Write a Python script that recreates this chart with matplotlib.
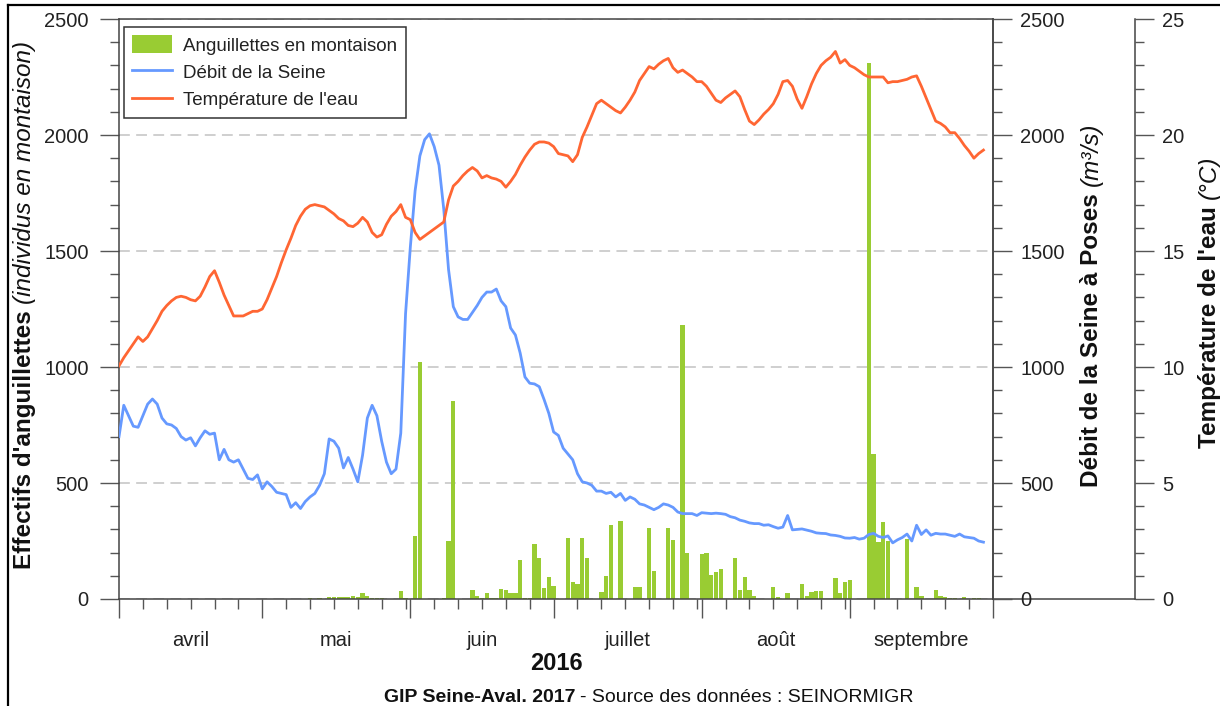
import numpy as np
import matplotlib
matplotlib.use("Agg")
import matplotlib.pyplot as plt
import matplotlib.dates as mdates
from matplotlib.ticker import MultipleLocator, NullFormatter
from matplotlib.patches import Patch
from matplotlib.lines import Line2D

plt.rcParams['font.family'] = ['Liberation Sans', 'DejaVu Sans']

# Données journalières du 1er avril au 29 septembre 2016
start = np.datetime64('2016-04-01')

# Anguillettes en montaison (individus / jour)
eels = [0, 0, 0, 0, 0, 0, 0, 0, 0, 0,
        0, 0, 0, 0, 0, 0, 0, 0, 0, 0,
        0, 0, 0, 0, 0, 0, 0, 0, 0, 1,
        1, 0, 0, 1, 0, 0, 2, 0, 2, 0,
        3, 0, 3, 0, 8, 8, 10, 8, 10, 12,
        10, 25, 12, 5, 5, 3, 0, 0, 2, 35,
        5, 0, 270, 1020, 0, 0, 0, 0, 5, 250,
        855, 0, 0, 0, 40, 15, 3, 25, 3, 3,
        43, 40, 25, 25, 168, 3, 3, 237, 177, 47,
        95, 56, 0, 0, 265, 75, 65, 265, 175, 0,
        0, 30, 100, 320, 0, 335, 0, 0, 50, 50,
        0, 305, 120, 0, 0, 305, 255, 0, 1180, 200,
        0, 0, 195, 200, 105, 115, 130, 0, 0, 175,
        40, 95, 40, 15, 0, 0, 0, 50, 10, 0,
        25, 0, 0, 65, 15, 30, 35, 35, 0, 0,
        90, 27, 75, 80, 0, 0, 0, 2310, 625, 247,
        330, 250, 0, 0, 0, 259, 0, 51, 13, 0,
        0, 40, 12, 10, 3, 3, 0, 8, 0, 3,
        3, 0]

# Débit de la Seine à Poses (m3/s)
debit = [700, 835, 790, 745, 740, 790, 840, 862, 840, 780,
         755, 750, 735, 700, 685, 695, 660, 695, 725, 710,
         715, 600, 645, 600, 590, 600, 560, 520, 515, 535,
         475, 505, 485, 460, 455, 450, 395, 415, 390, 420,
         440, 455, 490, 540, 690, 680, 650, 565, 610, 560,
         505, 620, 780, 835, 790, 680, 590, 540, 560, 715,
         1230, 1517, 1760, 1910, 1980, 2005, 1950, 1870, 1680, 1420,
         1260, 1216, 1205, 1205, 1235, 1265, 1300, 1323, 1323, 1336,
         1285, 1260, 1168, 1138, 1060, 957, 930, 927, 915, 860,
         800, 720, 705, 650, 625, 600, 540, 505, 500, 490,
         465, 465, 455, 460, 440, 455, 425, 440, 430, 410,
         405, 395, 385, 395, 410, 405, 395, 375, 368, 368,
         368, 360, 372, 370, 368, 370, 368, 365, 355, 350,
         340, 335, 328, 325, 325, 318, 320, 312, 305, 310,
         360, 298, 300, 302, 297, 292, 285, 283, 282, 276,
         274, 270, 263, 262, 265, 258, 262, 278, 283, 270,
         265, 272, 242, 255, 265, 280, 250, 318, 278, 298,
         275, 283, 280, 280, 275, 270, 280, 268, 265, 262,
         250, 245]

# Température de l'eau (°C)
temp = [10.05, 10.4, 10.7, 11.0, 11.3, 11.1, 11.3, 11.65, 12.0, 12.4,
        12.65, 12.85, 13.0, 13.05, 13.0, 12.9, 12.85, 13.05, 13.45, 13.9,
        14.15, 13.65, 13.1, 12.65, 12.2, 12.2, 12.2, 12.3, 12.4, 12.4,
        12.5, 12.9, 13.4, 13.9, 14.5, 15.05, 15.55, 16.1, 16.5, 16.8,
        16.95, 17.0, 16.95, 16.9, 16.75, 16.6, 16.4, 16.3, 16.1, 16.05,
        16.2, 16.45, 16.25, 15.8, 15.6, 15.7, 16.15, 16.5, 16.7, 17.0,
        16.45, 16.35, 15.8, 15.5, 15.65, 15.8, 15.95, 16.1, 16.25, 17.2,
        17.8, 18.0, 18.25, 18.45, 18.6, 18.45, 18.15, 18.25, 18.15, 18.1,
        18.0, 17.75, 18.0, 18.3, 18.7, 19.05, 19.35, 19.6, 19.7, 19.7,
        19.65, 19.5, 19.2, 19.15, 19.1, 18.85, 19.15, 19.9, 20.35, 20.85,
        21.35, 21.5, 21.35, 21.2, 21.05, 20.95, 21.2, 21.5, 21.85, 22.35,
        22.65, 22.95, 22.85, 23.05, 23.2, 23.3, 22.9, 22.7, 22.8, 22.65,
        22.5, 22.3, 22.3, 22.1, 21.8, 21.5, 21.4, 21.6, 21.75, 21.9,
        21.65, 21.1, 20.6, 20.45, 20.65, 20.9, 21.1, 21.35, 21.75, 22.3,
        22.35, 22.1, 21.55, 21.15, 21.65, 22.2, 22.65, 23.0, 23.2, 23.35,
        23.6, 23.1, 23.25, 23.0, 22.9, 22.75, 22.6, 22.5, 22.5, 22.5,
        22.5, 22.25, 22.3, 22.3, 22.35, 22.4, 22.5, 22.55, 22.1, 21.6,
        21.1, 20.6, 20.5, 20.35, 20.1, 20.1, 19.85, 19.55, 19.3, 19.0,
        19.2, 19.35]

months = ['avril', 'mai', 'juin', 'juillet', 'août', 'septembre']

dates = start + np.arange(len(debit))
bar_dates = start + np.arange(len(eels))

W, H, DPI = 1220, 706, 100
GREEN = '#99CC33'
BLUE = '#6699FF'
ORANGE = '#FF6633'
AXC = '#555555'
TXT = '#222222'

fig = plt.figure(figsize=(W / DPI, H / DPI), dpi=DPI)
ax = fig.add_axes([119 / W, 1 - 599 / H, 874 / W, 580 / H])

# barres des effectifs
ax.bar(bar_dates, eels, width=0.9, color=GREEN, zorder=2)
ax.set_ylim(0, 2500)
ax.set_xlim(np.datetime64('2016-04-01'), np.datetime64('2016-10-01'))
ax.yaxis.set_major_locator(MultipleLocator(500))
ax.yaxis.set_minor_locator(MultipleLocator(100))
ax.set_axisbelow(True)
ax.grid(axis='y', which='major', color='#cccccc', lw=1.3, linestyle=(0, (6, 3.5)))

ax.xaxis.set_major_locator(mdates.MonthLocator())
ax.xaxis.set_minor_locator(mdates.DayLocator(bymonthday=[6, 11, 16, 21, 26, 31]))
ax.xaxis.set_major_formatter(NullFormatter())
ax.tick_params(axis='x', which='major', direction='out', length=13.7, width=1, color=AXC)
ax.tick_params(axis='x', which='minor', direction='out', length=7.2, width=1, color=AXC)
ax.tick_params(axis='y', which='major', direction='out', length=13.7, width=1, color=AXC,
               labelsize=14.5, labelcolor=TXT, pad=8)
ax.tick_params(axis='y', which='minor', direction='out', length=6.5, width=1, color=AXC)
for s in ax.spines.values():
    s.set_color('#444444')
    s.set_linewidth(1.1)

# débit
ax2 = ax.twinx()
ax2.plot(dates, debit, color=BLUE, lw=2)
ax2.set_ylim(0, 2500)

# température
ax3 = ax.twinx()
ax3.spines['right'].set_position(('axes', (1135 - 119) / 874))
ax3.plot(dates, temp, color=ORANGE, lw=2)
ax3.set_ylim(0, 25)

for a, step in ((ax2, 500), (ax3, 5)):
    a.yaxis.set_major_locator(MultipleLocator(step))
    a.yaxis.set_minor_locator(MultipleLocator(step / 5))
    a.tick_params(axis='y', which='major', direction='out', length=13.7, width=1, color=AXC,
                  labelsize=14.5, labelcolor=TXT, pad=6)
    a.tick_params(axis='y', which='minor', direction='out', length=6.5, width=1, color=AXC)
    for name in ('left', 'top', 'bottom'):
        a.spines[name].set_visible(False)
    a.spines['right'].set_color('#444444')
    a.spines['right'].set_linewidth(1.1)

# prolongement de l'axe horizontal jusqu'à l'axe des températures
ax.add_line(Line2D([1, (1135 - 119) / 874], [0, 0], transform=ax.transAxes,
                   color='#444444', lw=1.1, clip_on=False))

# noms des mois au milieu de chaque mois
month_starts = np.arange(np.datetime64('2016-04'), np.datetime64('2016-11'), dtype='datetime64[M]')
for i, name in enumerate(months):
    a0 = month_starts[i].astype('datetime64[D]')
    a1 = month_starts[i + 1].astype('datetime64[D]')
    mid = mdates.date2num(a0) + (a1 - a0).astype(int) / 2
    ax.text(mid, -0.0707, name, transform=ax.get_xaxis_transform(),
            ha='center', va='center', fontsize=14.5, color=TXT)

fig.text(556 / W, 1 - 664 / H, '2016', fontsize=17, fontweight='bold',
         ha='center', va='center', color='#111111')

# légende
handles = [Patch(facecolor=GREEN, edgecolor='none'),
           Line2D([], [], color=BLUE, lw=2),
           Line2D([], [], color=ORANGE, lw=2)]
labels = ['Anguillettes en montaison', 'Débit de la Seine', "Température de l'eau"]
leg = ax3.legend(handles, labels, loc='upper left', bbox_to_anchor=(5 / 874, 1 - 8 / 580),
                 borderaxespad=0, fontsize=13.5, frameon=True, fancybox=False,
                 framealpha=1, edgecolor='#333333', handlelength=2.1, handleheight=1.1,
                 labelspacing=0.42, borderpad=0.45, handletextpad=0.6)
leg.get_frame().set_linewidth(1.1)
for t in leg.get_texts():
    t.set_color(TXT)

fig.canvas.draw()
renderer = fig.canvas.get_renderer()


def vertical_label(xc, yc, bold, italic, size):
    """Titre d'axe vertical : partie en gras suivie d'une partie en italique."""
    em = size * DPI / 72
    xb = (xc + 0.35 * em) / W
    t1 = fig.text(xb, 0, bold, rotation=90, rotation_mode='anchor', ha='left',
                  va='baseline', fontsize=size, fontweight='bold', color='#111111')
    t2 = fig.text(xb, 0, italic, rotation=90, rotation_mode='anchor', ha='left',
                  va='baseline', fontsize=size, fontstyle='italic', color='#111111')
    h1 = t1.get_window_extent(renderer).height
    h2 = t2.get_window_extent(renderer).height
    gap = 0.28 * em
    y0 = (H - yc) - (h1 + gap + h2) / 2
    t1.set_y(y0 / H)
    t2.set_y((y0 + h1 + gap) / H)


vertical_label(22, 305, "Effectifs d'anguillettes", '(individus en montaison)', 17.5)
vertical_label(1089, 305, 'Débit de la Seine à Poses', '(m³/s)', 17.5)
vertical_label(1207, 302, "Température de l'eau", '(°C)', 17.5)

# source
s1 = fig.text(384 / W, 1 - 702 / H, 'GIP Seine-Aval. 2017', fontsize=14, fontweight='bold',
              ha='left', va='baseline', color='#111111')
w1 = s1.get_window_extent(renderer).width
fig.text((384 + w1 + 4) / W, 1 - 702 / H, '- Source des données : SEINORMIGR', fontsize=14,
         ha='left', va='baseline', color='#111111')

# cadre
fig.add_artist(Line2D([8 / W, 1], [1 - 5 / H, 1 - 5 / H], transform=fig.transFigure,
                      color='black', lw=1.6))
fig.add_artist(Line2D([8 / W, 8 / W], [0, 1 - 5 / H], transform=fig.transFigure,
                      color='black', lw=1.6))

fig.savefig('out.png', dpi=DPI)
